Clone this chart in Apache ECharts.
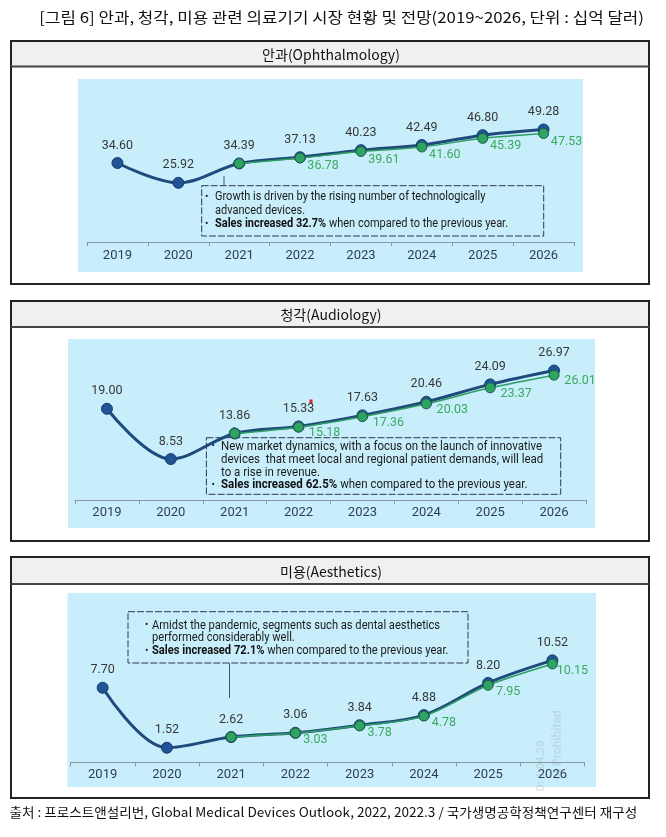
<!DOCTYPE html>
<html><head><meta charset="utf-8">
<script src="https://cdn.jsdelivr.net/npm/echarts@6/dist/echarts.min.js"></script>
<style>html,body{margin:0;padding:0;background:#fff}#c{width:666px;height:837px}</style>
</head><body><div id="c"></div>
<script>
// ---- data ----
const years = ['2019', '2020', '2021', '2022', '2023', '2024', '2025', '2026'];
const ophthMain = [34.60, 25.92, 34.39, 37.13, 40.23, 42.49, 46.80, 49.28];
const ophthAlt  = [null, null, 34.39, 36.78, 39.61, 41.60, 45.39, 47.53];
const audioMain = [19.00, 8.53, 13.86, 15.33, 17.63, 20.46, 24.09, 26.97];
const audioAlt  = [null, null, 13.86, 15.18, 17.36, 20.03, 23.37, 26.01];
const aesthMain = [7.70, 1.52, 2.62, 3.06, 3.84, 4.88, 8.20, 10.52];
const aesthAlt  = [null, null, 2.62, 3.03, 3.78, 4.78, 7.95, 10.15];
const panelTitles = ['안과(Ophthalmology)', '청각(Audiology)', '미용(Aesthetics)'];
const figTitle = '[그림 6] 안과, 청각, 미용 관련 의료기기 시장 현황 및 전망(2019~2026, 단위 : 십억 달러)';
const sourceText = '출처 : 프로스트앤설리번, Global Medical Devices Outlook, 2022, 2022.3 / 국가생명공학정책연구센터 재구성';
const notes1 = [
  ['•', 'Growth is driven by the rising number of technologically'],
  ['', 'advanced devices.'],
  ['•', '{b|Sales increased 32.7%} when compared to the previous year.']
];
const notes2 = [
  ['•', 'New market dynamics, with a focus on the launch of innovative'],
  ['', 'devices  that meet local and regional patient demands, will lead'],
  ['', 'to a rise in revenue.'],
  ['•', '{b|Sales increased 62.5%} when compared to the previous year.']
];
const notes3 = [
  ['•', 'Amidst the pandemic, segments such as dental aesthetics'],
  ['', 'performed considerably well.'],
  ['•', '{b|Sales increased 72.1%} when compared to the previous year.']
];

// ---- styling / layout ----
const SANS = "Roboto,'Noto Sans',sans-serif";
const KR = "'Noto Sans CJK KR','Noto Sans',sans-serif";
const NAVY_LINE = '#1f4a7c', NAVY_DOT = '#1f5596', GREEN = '#2e9f62', GREEN_TXT = '#3aaa5e';
const BLUE_BG = '#c8eefc';

const panels = [
  {box:[11,41,649,284], head:66.5, bg:[78,79,583,272], grid:{left:87, width:487, top:105, height:137}, max:60,
   main:ophthMain, alt:ophthAlt, offs:[23,8], margin:7,
   note:{rect:[201.7,185.7,342,50.3], bx:205, tx:215, y0:197, dy:13.6, sx:0.88, lines:notes1}, conn:[224,176,185.7]},
  {box:[11,301,649,541], head:327, bg:[68,339,595,528], grid:{left:75, width:511, top:356, height:144}, max:30,
   main:audioMain, alt:audioAlt, offs:[26,6], margin:6,
   note:{rect:[206.4,437.7,354.3,56.6], bx:211.5, tx:221, y0:446.8, dy:12.8, sx:0.92, lines:notes2}, conn:[234,427,437.7]},
  {box:[11,557,649,798], head:584, bg:[67.5,593,596,787], grid:{left:70.5, width:514, top:646, height:116.5}, max:12,
   main:aesthMain, alt:aesthAlt, offs:[20,7], margin:6,
   note:{rect:[128,611.7,340,51.3], bx:145, tx:152, y0:625.5, dy:12.8, sx:0.89, lines:notes3}, conn:[229.5,663,698]}
];

const grids = [], xAxes = [], yAxes = [], series = [], graphics = [];
panels.forEach((p, i) => {
  const [x1, y1, x2, y2] = p.box;
  graphics.push({type:'rect', z:0, shape:{x:x1, y:y1, width:x2-x1, height:y2-y1}, style:{fill:'#fff', stroke:'#222', lineWidth:2}});
  graphics.push({type:'rect', z:1, shape:{x:x1+1, y:y1+1, width:x2-x1-2, height:p.head-y1-1}, style:{fill:'#f0f0f0'}});
  graphics.push({type:'line', z:1, shape:{x1:x1, y1:p.head, x2:x2, y2:p.head}, style:{stroke:'#444', lineWidth:2}});
  graphics.push({type:'text', z:2, x:(x1+x2)/2 + 1, y:(y1+p.head)/2 + 1,
    style:{text:panelTitles[i], font:'14px ' + KR, fill:'#111', textAlign:'center', textVerticalAlign:'middle'}});
  const [bx1, by1, bx2, by2] = p.bg;
  graphics.push({type:'rect', z:1, shape:{x:bx1, y:by1, width:bx2-bx1, height:by2-by1}, style:{fill:BLUE_BG}});
  // annotation
  const n = p.note;
  graphics.push({type:'rect', z:2, shape:{x:n.rect[0], y:n.rect[1], width:n.rect[2], height:n.rect[3]},
    style:{fill:'rgba(0,0,0,0)', stroke:'#2b3a4a', lineWidth:1, lineDash:[7,2]}});
  graphics.push({type:'line', z:2, shape:{x1:p.conn[0], y1:p.conn[1], x2:p.conn[0], y2:p.conn[2]}, style:{stroke:'#4a5560', lineWidth:1}});
  n.lines.forEach((ln, k) => {
    const yy = n.y0 + k * n.dy;
    if (ln[0]) graphics.push({type:'text', z:3, x:n.bx, y:yy,
      style:{text:ln[0], font:'10px ' + SANS, fill:'#1a1a1a', textAlign:'left', textVerticalAlign:'middle'}});
    graphics.push({type:'text', z:3, x:n.tx, y:yy, scaleX:n.sx, scaleY:1,
      style:{text:ln[1], font:'12.5px ' + SANS, fill:'#1a1a1a', textAlign:'left', textVerticalAlign:'middle',
        rich:{b:{font:'bold 12.5px ' + SANS, fill:'#111'}}}});
  });

  grids.push(Object.assign({containLabel:false}, p.grid));
  xAxes.push({gridIndex:i, type:'category', data:years, boundaryGap:true, z:6,
    axisLine:{lineStyle:{color:'#8797a6', width:1}},
    axisTick:{show:true, length:4, lineStyle:{color:'#8797a6'}},
    axisLabel:{color:'#2f3f50', fontSize:13, fontFamily:SANS, margin:p.margin}});
  yAxes.push({gridIndex:i, type:'value', min:0, max:p.max, show:false, splitLine:{show:false}});
  series.push({type:'line', xAxisIndex:i, yAxisIndex:i, data:p.main, smooth:0.35, z:3,
    symbol:'circle', symbolSize:11,
    lineStyle:{color:NAVY_LINE, width:3},
    itemStyle:{color:NAVY_DOT, borderColor:'#173d6a', borderWidth:1},
    label:{show:true, position:'top', distance:5, color:'#383838', fontSize:12.5, fontFamily:SANS,
      formatter:(d) => d.value.toFixed(2)}});
  series.push({type:'line', xAxisIndex:i, yAxisIndex:i, data:p.alt, smooth:0.3, z:4,
    symbol:'circle', symbolSize:10,
    lineStyle:{color:GREEN, width:1.5},
    itemStyle:{color:'#2ea362', borderColor:'#1e5e48', borderWidth:1},
    label:{show:true, position:'inside', offset:p.offs, color:GREEN_TXT, fontSize:12.5, fontFamily:SANS,
      formatter:(d) => d.dataIndex === 2 ? '' : d.value.toFixed(2)}});
});

// small artefacts present on the original figure
graphics.push({type:'rect', z:3, shape:{x:309.5, y:399.5, width:3, height:4}, style:{fill:'#e8201c'}});
graphics.push({type:'text', z:3, x:541, y:766, rotation:Math.PI/2,
  style:{text:'D: 1.04.20', font:'bold 11px ' + SANS, fill:'rgba(160,170,180,0.3)', textAlign:'center', textVerticalAlign:'middle'}});
graphics.push({type:'text', z:3, x:558, y:745, rotation:Math.PI/2,
  style:{text:'ot Prohibited', font:'bold 12px ' + SANS, fill:'rgba(160,170,180,0.3)', textAlign:'center', textVerticalAlign:'middle'}});

graphics.push({type:'text', z:3, x:644, y:17, scaleX:1.12, scaleY:1,
  style:{text:figTitle, font:'15px ' + KR, fill:'#111', textAlign:'right', textVerticalAlign:'middle'}});
graphics.push({type:'text', z:3, x:9.5, y:812, scaleX:1.045, scaleY:1,
  style:{text:sourceText, font:'13px ' + KR, fill:'#111', textAlign:'left', textVerticalAlign:'middle'}});

const chart = echarts.init(document.getElementById('c'), null, {renderer:'canvas'});
chart.setOption({
  animation:false,
  backgroundColor:'#fff',
  grid:grids, xAxis:xAxes, yAxis:yAxes, series:series,
  graphic:{elements:graphics}
});
</script></body></html>
